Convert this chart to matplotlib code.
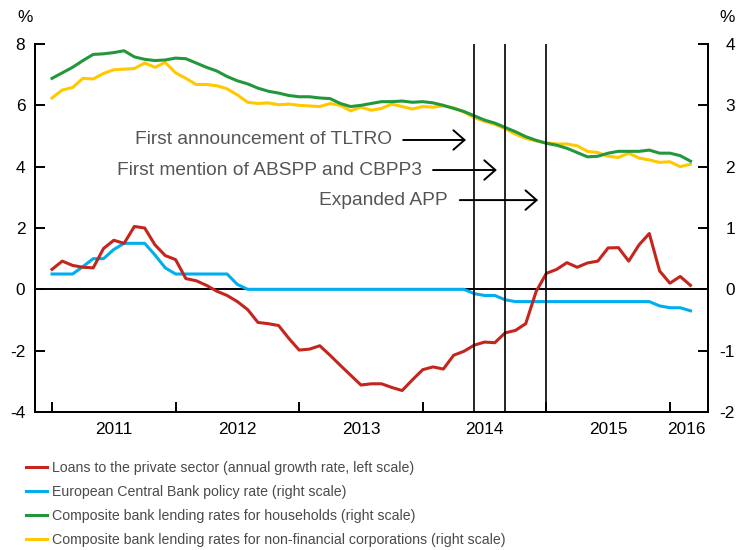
import matplotlib
matplotlib.use("Agg")
import matplotlib.pyplot as plt
import numpy as np

plt.rcParams['font.family'] = ['Liberation Sans', 'DejaVu Sans']
plt.rcParams['axes.unicode_minus'] = False

# mesi da gennaio 2011 (0) a marzo 2016 (62)
months = np.arange(63)

# prestiti al settore privato, scala sinistra
loans = [0.65, 0.92, 0.78, 0.72, 0.70, 1.33, 1.60, 1.50, 2.05, 2.00,
         1.45, 1.10, 0.97, 0.35, 0.28, 0.13, -0.06, -0.20, -0.40, -0.66,
         -1.08, -1.12, -1.18, -1.60, -1.98, -1.95, -1.84, -2.15, -2.48, -2.80,
         -3.12, -3.08, -3.08, -3.20, -3.30, -2.95, -2.62, -2.53, -2.60, -2.15,
         -2.02, -1.82, -1.72, -1.74, -1.42, -1.34, -1.12, -0.08, 0.52, 0.65,
         0.87, 0.72, 0.86, 0.92, 1.35, 1.36, 0.92, 1.45, 1.82, 0.60,
         0.20, 0.42, 0.13]

# tasso BCE, scala destra
ecb = [0.25, 0.25, 0.25, 0.37, 0.50, 0.50, 0.65, 0.75, 0.75, 0.75,
       0.56, 0.35, 0.25, 0.25, 0.25, 0.25, 0.25, 0.25, 0.08, 0.0,
       0.0, 0.0, 0.0, 0.0, 0.0, 0.0, 0.0, 0.0, 0.0, 0.0,
       0.0, 0.0, 0.0, 0.0, 0.0, 0.0, 0.0, 0.0, 0.0, 0.0,
       0.0, -0.07, -0.10, -0.10, -0.17, -0.20, -0.20, -0.20, -0.20, -0.20,
       -0.20, -0.20, -0.20, -0.20, -0.20, -0.20, -0.20, -0.20, -0.20, -0.27,
       -0.30, -0.30, -0.35]

# tassi famiglie, scala destra
households = [3.44, 3.53, 3.62, 3.73, 3.83, 3.84, 3.86, 3.89, 3.79, 3.75,
              3.73, 3.74, 3.77, 3.76, 3.69, 3.62, 3.56, 3.47, 3.40, 3.35,
              3.28, 3.23, 3.20, 3.16, 3.14, 3.14, 3.12, 3.11, 3.03, 2.98,
              3.00, 3.03, 3.06, 3.06, 3.07, 3.05, 3.06, 3.04, 3.00, 2.95,
              2.90, 2.83, 2.76, 2.71, 2.64, 2.57, 2.49, 2.43, 2.38, 2.35,
              2.30, 2.23, 2.16, 2.17, 2.22, 2.25, 2.25, 2.25, 2.27, 2.22,
              2.22, 2.18, 2.09]

# tassi imprese, scala destra
nfc = [3.12, 3.25, 3.29, 3.44, 3.43, 3.52, 3.58, 3.59, 3.60, 3.69,
       3.62, 3.70, 3.53, 3.44, 3.34, 3.34, 3.32, 3.27, 3.17, 3.05,
       3.03, 3.04, 3.01, 3.02, 3.00, 2.99, 2.98, 3.03, 3.00, 2.91,
       2.97, 2.92, 2.95, 3.02, 2.98, 2.94, 2.98, 2.97, 2.99, 2.96,
       2.89, 2.80, 2.74, 2.69, 2.62, 2.53, 2.46, 2.42, 2.39, 2.37,
       2.37, 2.34, 2.25, 2.23, 2.17, 2.15, 2.22, 2.14, 2.11, 2.07,
       2.08, 2.00, 2.04]

year_ticks = [0, 12, 24, 36, 48, 60]
year_label_pos = [6, 18, 30, 42, 54, 61.6]
year_labels = ["2011", "2012", "2013", "2014", "2015", "2016"]

events = [41, 44, 48]
event_labels = ["First announcement of TLTRO",
                "First mention of ABSPP and CBPP3",
                "Expanded APP"]
event_text_y = [4.87, 3.89, 2.91]
arrow_start = [34.1, 37.0, 39.6]
text_right = [33.0, 35.9, 38.4]

legend_labels = ["Loans to the private sector (annual growth rate, left scale)",
                 "European Central Bank policy rate (right scale)",
                 "Composite bank lending rates for households (right scale)",
                 "Composite bank lending rates for non-financial corporations (right scale)"]

c_red = "#c4261d"
c_blue = "#00aeef"
c_green = "#23973b"
c_yellow = "#ffc800"

fig = plt.figure(figsize=(7.36, 5.5), dpi=100)
ax = fig.add_axes([35/736, 1-412/550, (708-35)/736, (412-44)/550])
ax2 = ax.twinx()
ax.set_zorder(ax2.get_zorder() + 1)
ax.patch.set_visible(False)

ax2.axhline(0, color="black", lw=1.4, zorder=1)
l_blue, = ax2.plot(months, ecb, color=c_blue, lw=2.2, zorder=2)
l_green, = ax2.plot(months, households, color=c_green, lw=2.2, zorder=3)
l_yellow, = ax2.plot(months, nfc, color=c_yellow, lw=2.2, zorder=2.5)
l_red, = ax.plot(months, loans, color=c_red, lw=2.2, zorder=2)

for ev in events:
    ax.axvline(ev, color="black", lw=1.2, zorder=3)

for lab, ty, tx, xs, ev in zip(event_labels, event_text_y, text_right, arrow_start, events):
    ax.text(tx, ty, lab, ha="right", va="center", fontsize=13.8, color="#555555")
    ax.annotate("", xy=(ev - 0.8, ty), xytext=(xs, ty),
                arrowprops=dict(arrowstyle="->,head_length=0.8,head_width=0.7",
                                lw=1.4, color="black", shrinkA=0, shrinkB=0))

ax.set_xlim(-1.65, 63.7)
ax.set_ylim(-4, 8)
ax2.set_ylim(-2, 4)
ax.set_yticks([-4, -2, 0, 2, 4, 6, 8])
ax2.set_yticks([-2, -1, 0, 1, 2, 3, 4])

ax.set_xticks(year_ticks)
ax.set_xticklabels([])
ax.set_xticks(year_label_pos, minor=True)
ax.set_xticklabels(year_labels, minor=True)
ax.tick_params(axis="x", which="major", direction="in", length=7.5, width=1.4)
ax.tick_params(axis="x", which="minor", length=0, pad=7, labelsize=12.4)
ax.tick_params(axis="y", direction="in", length=7.5, width=1.4, pad=7, labelsize=12.4)
ax2.tick_params(axis="y", direction="in", length=7.5, width=1.4, pad=19.4, labelsize=12.4)
for t in ax2.get_yticklabels():
    t.set_horizontalalignment("right")

for a in (ax, ax2):
    a.spines["top"].set_visible(False)
    for s in ("left", "right", "bottom"):
        a.spines[s].set_linewidth(1.4)

fig.text(25/736, 1-17/550, "%", ha="center", va="center", fontsize=12.4)
fig.text(727/736, 1-17/550, "%", ha="center", va="center", fontsize=12.4)

leg = fig.legend([l_red, l_blue, l_green, l_yellow], legend_labels,
                 loc="upper left", bbox_to_anchor=(26/736, 1-461/550),
                 frameon=False, borderpad=0, borderaxespad=0,
                 handlelength=1.5, handletextpad=0.35, labelspacing=0.71,
                 prop={"family": "Liberation Sans", "size": 10.2})
for t in leg.get_texts():
    t.set_color("#4a4a4a")
for h in leg.get_lines():
    h.set_linewidth(2.2)

fig.savefig("out.png", dpi=100)
